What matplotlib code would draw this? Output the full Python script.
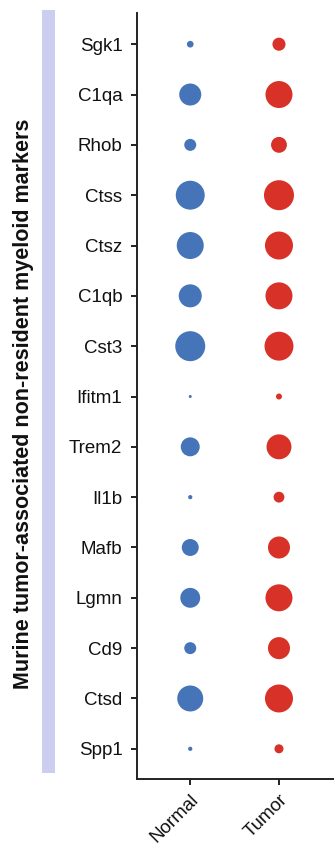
import numpy as np
import matplotlib
matplotlib.use("Agg")
import matplotlib.pyplot as plt
from matplotlib.patches import Rectangle

plt.rcParams['font.family'] = ['Liberation Sans', 'DejaVu Sans']

genes = ["Sgk1", "C1qa", "Rhob", "Ctss", "Ctsz", "C1qb", "Cst3", "Ifitm1",
         "Trem2", "Il1b", "Mafb", "Lgmn", "Cd9", "Ctsd", "Spp1"]
groups = ["Normal", "Tumor"]
# percent of cells expressing each marker
pct_normal = [5, 54, 16, 93, 81, 59, 100, 1, 40, 2, 32, 44, 16, 75, 2]
pct_tumor = [19, 81, 28, 100, 87, 81, 93, 4, 69, 13, 54, 81, 54, 87, 9]
colors = ["#4674b8", "#d83127"]
ylabel = "Murine tumor-associated non-resident myeloid markers"

fig = plt.figure(figsize=(3.34, 8.46), dpi=100)
ax = fig.add_axes([137 / 334, 1 - 779 / 846, 1 - 137 / 334, (779 - 13) / 846])

max_d_pt = 30 * 0.72  # diameter in points for 100 %
ypos = np.arange(len(genes))
for gi, (vals, col) in enumerate(zip([pct_normal, pct_tumor], colors)):
    vals = np.asarray(vals, dtype=float)
    sizes = (max_d_pt * np.sqrt(vals / 100.0)) ** 2
    ax.scatter(np.full(len(genes), gi), ypos, s=sizes, c=col, linewidths=0, zorder=3)

ax.set_xlim(-0.6, 1.62)
ax.set_ylim(len(genes) - 1 + 0.6, -0.62)
ax.set_yticks(ypos)
ax.set_yticklabels(genes, fontsize=13.5)
ax.set_xticks([0, 1])
ax.set_xticklabels(groups, fontsize=13.5, rotation=45, ha='right', rotation_mode='anchor')

for side in ['top', 'right']:
    ax.spines[side].set_visible(False)
for side in ['left', 'bottom']:
    ax.spines[side].set_linewidth(1.4)
    ax.spines[side].set_color('#222222')
ax.tick_params(axis='both', width=1.4, length=4, color='#222222', labelcolor='#111111')
ax.tick_params(axis='y', pad=6.5)
ax.tick_params(axis='x', pad=5)

# lavender band behind the y-axis title
fig.patches.append(Rectangle((42 / 334, 1 - 773 / 846), 13 / 334, (773 - 10) / 846,
                             transform=fig.transFigure, facecolor='#cdcdf0',
                             edgecolor='none', zorder=0))
fig.text(24 / 334, 1 - 404 / 846, ylabel, rotation=90, ha='center', va='center',
         fontsize=15.5, fontweight='bold', color='#111111')

fig.savefig("out.png", dpi=100)
